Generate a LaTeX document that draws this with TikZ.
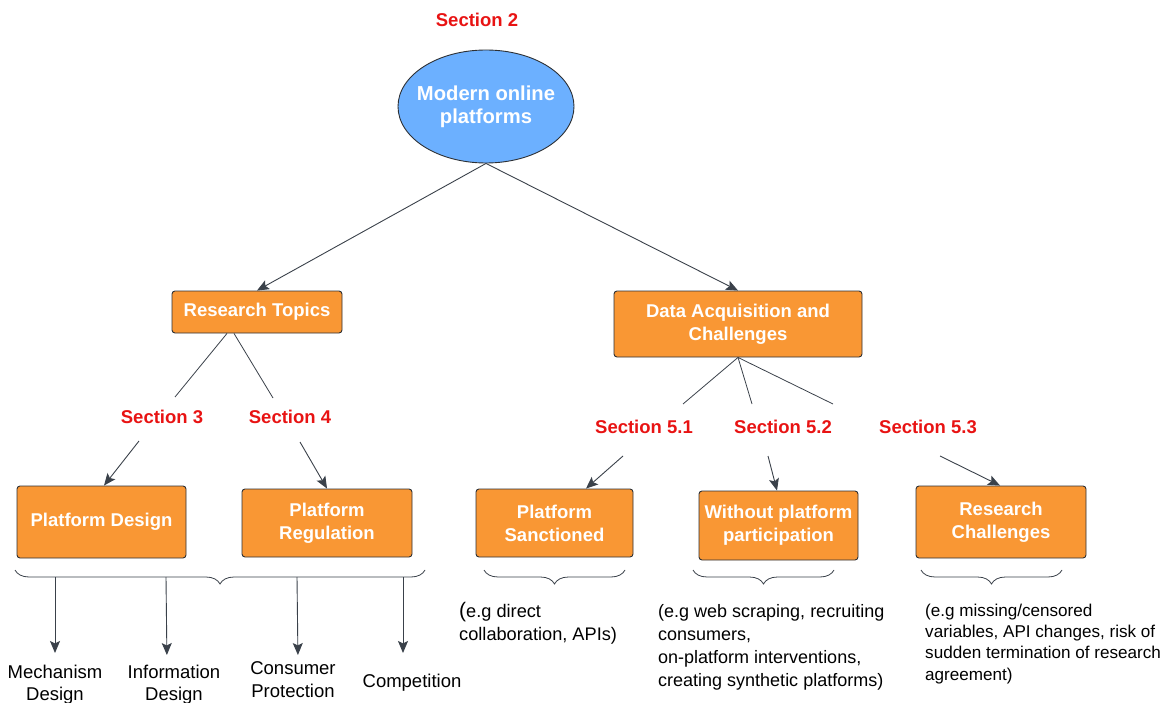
\documentclass[tikz,border=0pt]{standalone}
\usepackage{fontspec}
\setmainfont{Liberation Sans}
\usetikzlibrary{arrows.meta,decorations.pathreplacing,shapes.geometric}
\definecolor{boxorange}{RGB}{249,151,52}
\definecolor{ovalblue}{RGB}{108,176,255}
\definecolor{secred}{RGB}{232,19,19}
\definecolor{linegray}{RGB}{58,65,74}
\definecolor{edgegray}{RGB}{45,48,52}
\begin{document}
\begin{tikzpicture}[x=1pt,y=-1pt,
    box/.style={draw=edgegray,line width=0.9pt,fill=boxorange,rounded corners=3pt,text=white,
      align=center,inner sep=0pt,font=\bfseries\fontsize{18.5}{23}\selectfont},
    sec/.style={text=secred,inner sep=0pt,font=\bfseries\fontsize{18.5}{22}\selectfont},
    lbl/.style={align=center,inner sep=0pt,anchor=north,font=\fontsize{18.5}{22.5}\selectfont},
    note/.style={align=left,inner sep=0pt,anchor=north west},
    arr/.style={draw=linegray,line width=0.9pt,-{Stealth[length=12pt,width=10pt,inset=2.5pt]}},
    ln/.style={draw=linegray,line width=0.8pt},
    brc/.style={draw=linegray,line width=0.8pt,decorate,decoration={brace,mirror,amplitude=14pt}}]
  \useasboundingbox (0,0) rectangle (1164,703);
  \node[draw=edgegray,line width=0.9pt,fill=ovalblue,ellipse,minimum width=176pt,minimum height=113pt,
    inner xsep=-9pt,inner ysep=0pt,text=white,align=center,font=\bfseries\fontsize{20.2}{23.3}\selectfont]
    (oval) at (486,106.5) {Modern online\\platforms};
  \node[sec] (s2) at (477,19.7) {Section 2};
  \node[box,minimum width=170pt,minimum height=42pt] (topics) at (257,312) {Research Topics};
  \node[box,minimum width=248pt,minimum height=66pt] (data) at (738,324) {Data Acquisition and\\Challenges};
  \node[sec] (s3) at (162,417) {Section 3};
  \node[sec] (s4) at (290,417) {Section 4};
  \node[sec] (s51) at (644,427) {Section 5.1};
  \node[sec] (s52) at (783,427) {Section 5.2};
  \node[sec] (s53) at (928,427) {Section 5.3};
  \node[box,minimum width=169pt,minimum height=72pt] (design) at (101.5,522) {Platform Design};
  \node[box,minimum width=170pt,minimum height=68pt] (regul) at (327,523) {Platform\\Regulation};
  \node[box,minimum width=157pt,minimum height=68pt] (sanct) at (554.5,523) {Platform\\Sanctioned};
  \node[box,minimum width=159pt,minimum height=69pt] (without) at (778.5,525.5) {Without platform\\participation};
  \node[box,minimum width=170pt,minimum height=72pt] (chall) at (1001,522) {Research\\Challenges};
  \node[lbl] (mech) at (55,664.7) {Mechanism\\Design};
  \node[lbl] (info) at (174,664.7) {Information\\Design};
  \node[lbl] (cons) at (293,661.7) {Consumer\\Protection};
  \node[lbl] (comp) at (412,673.7) {Competition};
  \node[note,font=\fontsize{18.2}{22.3}\selectfont] (eg1) at (459,602.5)
    {{\fontsize{21}{22}\selectfont(}e.g direct\\collaboration, APIs)};
  \node[note,font=\fontsize{18}{23}\selectfont] (eg2) at (658,604.5)
    {(e.g web scraping, recruiting\\consumers,\\on-platform interventions,\\creating synthetic platforms)};
  \node[note,font=\fontsize{17.1}{21.1}\selectfont] (eg3) at (925,604.2)
    {(e.g missing/censored\\variables, API changes, risk of\\sudden termination of research\\agreement)};
  \coordinate (t3) at (175,397);
  \coordinate (t4) at (273,398);
  \coordinate (d1) at (683,404);
  \coordinate (d2) at (752,404);
  \coordinate (d3) at (833,404);
  \coordinate (a3) at (139,441);
  \coordinate (a4) at (300,442);
  \coordinate (a51) at (623,456);
  \coordinate (a52) at (768,456);
  \coordinate (a53) at (940,456);
  \coordinate (f1) at (55,577);
  \coordinate (f2) at (166,577);
  \coordinate (f3) at (297,577);
  \coordinate (f4) at (403,577);
  \draw[arr] (oval.south) -- (topics.north);
  \draw[arr] (oval.south) -- (data.north);
  \draw[ln] ([xshift=-30pt]topics.south) -- (t3);
  \draw[ln] ([xshift=-23pt]topics.south) -- (t4);
  \draw[ln] (data.south) -- (d1);
  \draw[ln] (data.south) -- (d2);
  \draw[ln] (data.south) -- (d3);
  \draw[arr] (a3) -- ([xshift=2.5pt]design.north);
  \draw[arr] (a4) -- (regul.north);
  \draw[arr] (a51) -- ([xshift=31.5pt]sanct.north);
  \draw[arr] (a52) -- ([xshift=-1.5pt]without.north);
  \draw[arr] (a53) -- ([xshift=-1pt]chall.north);
  \draw[brc] (15,570) -- (425,570);
  \draw[brc] (484,570) -- (625,570);
  \draw[brc] (693,570) -- (834,570);
  \draw[brc] (921,570) -- (1062,570);
  \draw[arr,shorten >=11.7pt] (f1) -- (mech.north);
  \draw[arr,shorten >=9.7pt] (f2) -- ([xshift=-7pt]info.north);
  \draw[arr,shorten >=6.7pt] (f3) -- ([xshift=5pt]cons.north);
  \draw[arr,shorten >=20.7pt] (f4) -- ([xshift=-9pt]comp.north);
\end{tikzpicture}
\end{document}
